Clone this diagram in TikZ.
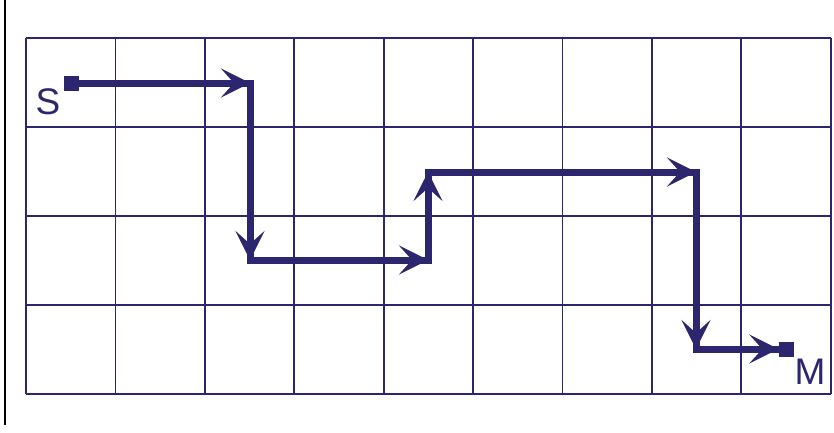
\documentclass[tikz,border=0pt]{standalone}
\usepackage{fontspec}
\setmainfont{Liberation Sans}
\usetikzlibrary{arrows.meta}
\definecolor{navy}{RGB}{44,38,110}
\begin{document}
\begin{tikzpicture}[x=1pt,y=-1pt,
 gridline/.style={navy, line width=1.8pt},
 route/.style={navy, line width=7pt, line join=miter},
 routearrow/.style={navy, line width=7pt, -{Stealth[length=29pt,width=29pt,inset=13pt]}},
 endsq/.style={rectangle, fill=navy, minimum size=15pt, inner sep=0pt},
 lbl/.style={text=navy, font=\fontsize{37}{40}\selectfont, inner sep=0pt}]
\useasboundingbox (0,0) rectangle (834,432);
\draw[black, line width=2pt] (5,0) -- (5,425);
\foreach \i in {0,...,9} \draw[gridline] ({26+\i*89.4},38) -- ({26+\i*89.4},394);
\foreach \j in {0,...,4} \draw[gridline] (26,{38+\j*89}) -- (830.6,{38+\j*89});
\node[endsq] (s) at (71,83) {};
\node[endsq] (m) at (786,349) {};
\coordinate (c1) at (250,83);
\coordinate (c2) at (250,260);
\coordinate (c3) at (428,260);
\coordinate (c4) at (428,172);
\coordinate (c5) at (696,172);
\coordinate (c6) at (696,349);
\draw[route] (s.center) -- (c1) -- (c2) -- (c3) -- (c4) -- (c5) -- (c6) -- (m.center);
\draw[routearrow] (s) -- (c1);
\draw[routearrow] (c1) -- (c2);
\draw[routearrow] (c2) -- (c3);
\draw[routearrow] (c3) -- (c4);
\draw[routearrow] (c4) -- (c5);
\draw[routearrow] (c5) -- (c6);
\draw[routearrow] (c6) -- (m);
\node[lbl] (slabel) at (48,102) {S};
\node[lbl] (mlabel) at (810,372) {M};
\end{tikzpicture}
\end{document}
